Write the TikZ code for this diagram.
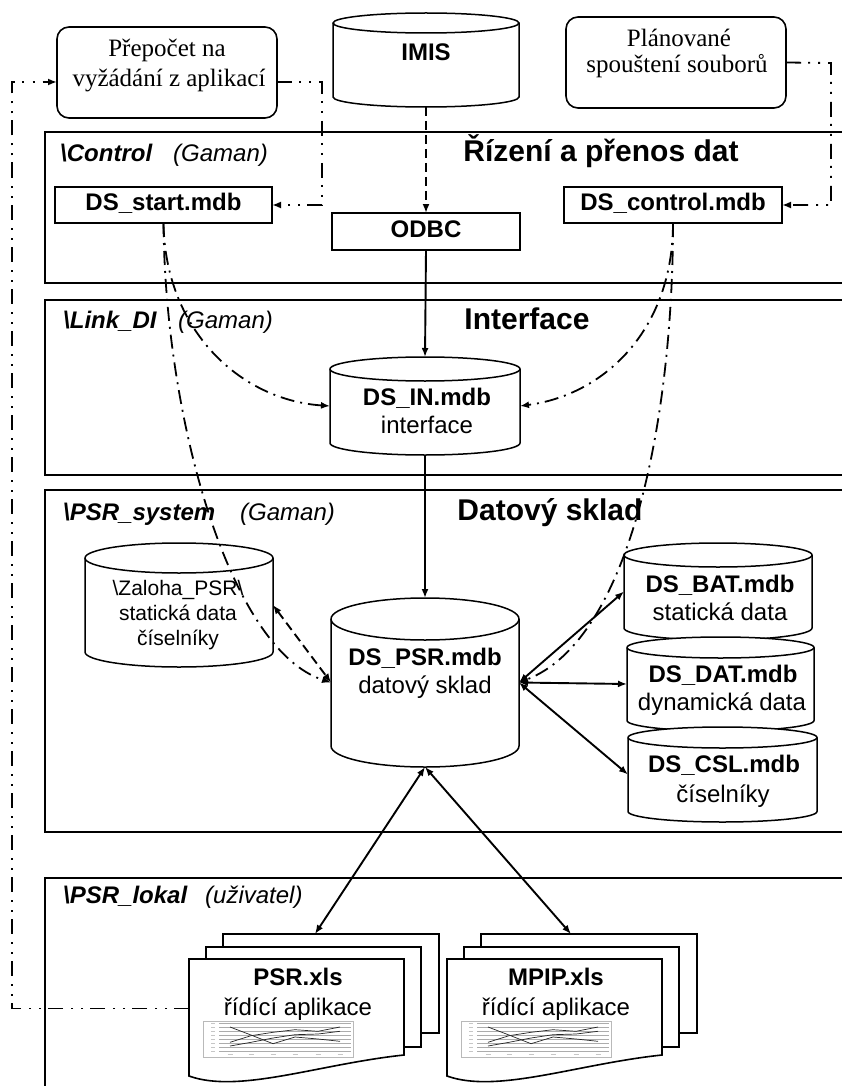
\documentclass[tikz,border=0pt]{standalone}
\usepackage{fontspec}
\setmainfont{Liberation Sans}
\newfontfamily\timesface{Liberation Serif}
\usetikzlibrary{arrows.meta}

% database cylinder: #1 name, #2 left x, #3 right x, #4 top y, #5 bottom y, #6 ellipse y radius
\newcommand\dbcyl[6]{%
  \pgfmathsetmacro\cylrx{(#3-#2)/2}%
  \pgfmathsetmacro\cylw{#3-#2}%
  \pgfmathsetmacro\cylh{#5-#4}%
  \pgfmathsetmacro\cylt{#4+#6}%
  \pgfmathsetmacro\cylb{#5-#6}%
  \filldraw[dbline, fill=white] (#2,\cylt) -- (#2,\cylb)
     arc[start angle=180, end angle=360, x radius=\cylrx pt, y radius=#6pt]
     -- (#3,\cylt)
     arc[start angle=0, end angle=180, x radius=\cylrx pt, y radius=#6pt] -- cycle;
  \draw[dbline] (#2,\cylt) arc[start angle=180, end angle=360, x radius=\cylrx pt, y radius=#6pt];
  \node[inner sep=0, outer sep=0, minimum width=\cylw pt, minimum height=\cylh pt]
     (#1) at ({(#2+#3)/2},{(#4+#5)/2}) {};
}

% small line chart printed on a workbook sheet (local coordinates)
\newcommand\minichart{%
  \draw[gray!55, fill=white, line width=0.6pt] (0,0) rectangle (150,36);
  \foreach \gy in {2,6,...,30} \draw[gray!65, line width=0.4pt] (16,\gy) -- (148,\gy);
  \foreach \gy in {2,6,...,30} \draw[gray!45, line width=0.9pt] (8,\gy) -- (12,\gy);
  \foreach \tk in {27,48,70,92,115,137} \draw[gray!45, line width=0.9pt] (\tk-2.5,33.5) -- (\tk+2.5,33.5);
  \draw[black!85, line width=0.7pt] (27,6) -- (48,14) -- (70,22.7) -- (92,16) -- (115,18) -- (137,20.3);
  \draw[black!85, line width=0.7pt] (27,21.3) -- (48,14.7) -- (70,11.3) -- (92,8.7) -- (115,10.3) -- (137,6);
  \draw[black!85, line width=0.7pt] (27,25) -- (48,21.3) -- (70,17) -- (92,13.7) -- (115,13) -- (137,10.3);
}

% stack of three workbook sheets: #1 name, #2/#3 top-left of front sheet, #4 file name
\newcommand\docstack[4]{%
  \begin{scope}[shift={(#2,#3)}]
    \node[sheet, anchor=north west, minimum width=216pt, minimum height=99pt] (#1back) at (34,-25) {};
    \node[sheet, anchor=north west, minimum width=215pt, minimum height=100pt] (#1mid) at (17,-12) {};
    \node[inner sep=0, outer sep=0, anchor=north west, minimum width=215pt, minimum height=99pt] (#1) at (0,0) {};
    \filldraw[sheetline] (0,0) -- (215,0) -- (215,96) .. controls (130,105) and (50,135) .. (0,117) -- cycle;
    \node[txtb, anchor=base] (#1name) at (109,26) {#4};
    \node[txt, anchor=base] (#1role) at (109,56) {řídící aplikace};
    \begin{scope}[shift={(14,62)}]\minichart\end{scope}
  \end{scope}
}

\begin{document}
\begin{tikzpicture}[x=1pt, y=-1pt,
  >={Latex[length=9pt,width=7pt]},
  panel/.style={draw, line width=1.8pt},
  rbox/.style={draw, rounded corners=12pt, line width=1.6pt, inner sep=0, outer sep=0},
  sbox/.style={draw, fill=white, line width=1.6pt, inner sep=0, outer sep=0,
               text height=17pt, text depth=5pt, font=\fontsize{24pt}{28pt}\selectfont\bfseries},
  txt/.style={inner sep=0, font=\fontsize{24pt}{28pt}\selectfont},
  txtb/.style={inner sep=0, font=\fontsize{24pt}{28pt}\selectfont\bfseries},
  txts/.style={inner sep=0, anchor=base, font=\fontsize{21pt}{25pt}\selectfont},
  serif/.style={inner sep=0, anchor=base, font=\fontsize{25pt}{30pt}\selectfont\timesface},
  title/.style={inner sep=0, anchor=base, font=\fontsize{30pt}{36pt}\selectfont\bfseries},
  plabel/.style={inner sep=0, anchor=base west, font=\fontsize{24pt}{28pt}\selectfont\bfseries\itshape},
  powner/.style={inner sep=0, anchor=base west, font=\fontsize{24pt}{28pt}\selectfont\itshape},
  dbline/.style={line width=1.5pt},
  sheet/.style={draw, fill=white, line width=1.6pt, inner sep=0, outer sep=0},
  sheetline/.style={line width=1.6pt, fill=white},
  flow/.style={line width=1.9pt},
  dashline/.style={line width=1.9pt, dash pattern=on 9pt off 5pt},
  dashdot/.style={line width=1.8pt, dash pattern=on 14pt off 6pt on 2pt off 6pt},
  dashdotdot/.style={line width=1.8pt, dash pattern=on 15pt off 7pt on 2pt off 8pt on 2pt off 8pt}
]
\useasboundingbox (0,0) rectangle (842,1086);
\clip (0,0) rectangle (842,1086);

% folder panels
\draw[panel] (45,132) rectangle (870,283);
\draw[panel] (45,300) rectangle (870,475);
\draw[panel] (45,490) rectangle (870,832);
\draw[panel] (45,878) rectangle (870,1110);

\node[plabel] (lblControl) at (60,162) {\textbackslash Control};
\node[powner] (ownControl) at (173,162) {(Gaman)};
\node[title, anchor=base] (ttlControl) at (601,162) {Řízení a přenos dat};

\node[plabel] (lblLink) at (63,328) {\textbackslash Link\_DI};
\node[powner] (ownLink) at (178,328) {(Gaman)};
\node[title] (ttlLink) at (527,329) {Interface};

\node[plabel] (lblSystem) at (63,520) {\textbackslash PSR\_system};
\node[powner] (ownSystem) at (240,520) {(Gaman)};
\node[title] (ttlSystem) at (550,520) {Datový sklad};

\node[plabel] (lblLokal) at (63,903) {\textbackslash PSR\_lokal};
\node[powner] (ownLokal) at (205,903) {(uživatel)};

% triggers
\node[rbox, minimum width=220pt, minimum height=91pt] (prepocet) at (167,72.5) {};
\node[serif] (prepocetA) at (167,57) {Přepočet na};
\node[serif] (prepocetB) at (169,87) {vyžádání z aplikací};

\node[rbox, minimum width=220pt, minimum height=91pt] (planovane) at (676,62.5) {};
\node[serif] (planovaneA) at (679,47) {Plánované};
\node[serif] (planovaneB) at (677,73) {spouštení souborů};

% source system
\dbcyl{imis}{333}{519}{13}{107}{10}
\node[txtb, anchor=base] (imisText) at (426,61) {IMIS};

% control files
\node[sbox, minimum width=217pt, minimum height=36pt] (dsstart) at (163.5,205) {DS\_start.mdb};
\node[sbox, minimum width=188pt, minimum height=37pt] (odbc) at (426,231.5) {ODBC};
\node[sbox, minimum width=218pt, minimum height=36pt] (dscontrol) at (673,205) {DS\_control.mdb};

% interface database
\dbcyl{dsin}{330}{520}{357}{455}{12}
\node[txtb, anchor=base] (dsinA) at (427,405) {DS\_IN.mdb};
\node[txt, anchor=base] (dsinB) at (427,433) {interface};

% data warehouse
\dbcyl{zaloha}{85}{273}{543}{667}{15}
\node[txts] (zalohaA) at (178,595) {\textbackslash Zaloha\_PSR\textbackslash};
\node[txts] (zalohaB) at (178,620) {statická data};
\node[txts] (zalohaC) at (178,645) {číselníky};

\dbcyl{psr}{331}{519}{598}{767}{21}
\node[txtb, anchor=base] (psrA) at (425,665) {DS\_PSR.mdb};
\node[txt, anchor=base] (psrB) at (425,693) {datový sklad};

\dbcyl{bat}{624}{812}{543}{640}{12}
\node[txtb, anchor=base] (batA) at (720,592) {DS\_BAT.mdb};
\node[txt, anchor=base] (batB) at (720,620) {statická data};

\dbcyl{dat}{627}{814}{637}{731}{10.5}
\node[txtb, anchor=base] (datA) at (723,682) {DS\_DAT.mdb};
\node[txt, anchor=base] (datB) at (722,710) {dynamická data};

\dbcyl{csl}{628}{817}{727}{822}{10.5}
\node[txtb, anchor=base] (cslA) at (724,772) {DS\_CSL.mdb};
\node[txt, anchor=base] (cslB) at (723,802) {číselníky};

% local workbooks
\docstack{psrxls}{189}{959}{PSR.xls}
\docstack{mpipxls}{447}{959}{MPIP.xls}

% connectors
\coordinate (loopTop) at (12,82);
\coordinate (pA) at (322,82);
\coordinate (pB) at (831,63);

\draw[dashline, ->] (imis.south) -- (odbc.north);
\draw[flow, ->] (odbc.south) -- (dsin.north);
\draw[flow, ->] (dsin.south) -- (psr.north);

\draw[dashdotdot, ->] (psrxls.west) -| (loopTop) -- (loopTop -| prepocet.west);
\draw[dashdotdot, ->] (prepocet.east |- pA) -- (pA) |- (dsstart.east);
\draw[dashdotdot, ->] (planovane.east) -- (pB) |- (dscontrol.east);

\draw[dashdot, ->] (dsstart.south) .. controls (165,330) and (240,400) .. (dsin.west);
\draw[dashdot, ->] (dsstart.south) .. controls (165,420) and (230,650) .. (psr.west);
\draw[dashdot, ->] (dscontrol.south) .. controls (673,330) and (604,395) .. (dsin.east);
\draw[dashdot, ->] (dscontrol.south) .. controls (673,420) and (630,640) .. (psr.east);

\draw[dashline, <->] (zaloha.east) -- (psr.west);

\draw[flow, <->] (psr.east) -- (bat.west);
\draw[flow, <->] (psr.east) -- (dat.west);
\draw[flow, <->] (psr.east) -- (csl.west);

\draw[flow, <->] (psr.south) -- ([xshift=-16pt]psrxlsback.north);
\draw[flow, <->] (psr.south) -- ([xshift=-18pt]mpipxlsback.north);
\end{tikzpicture}
\end{document}
